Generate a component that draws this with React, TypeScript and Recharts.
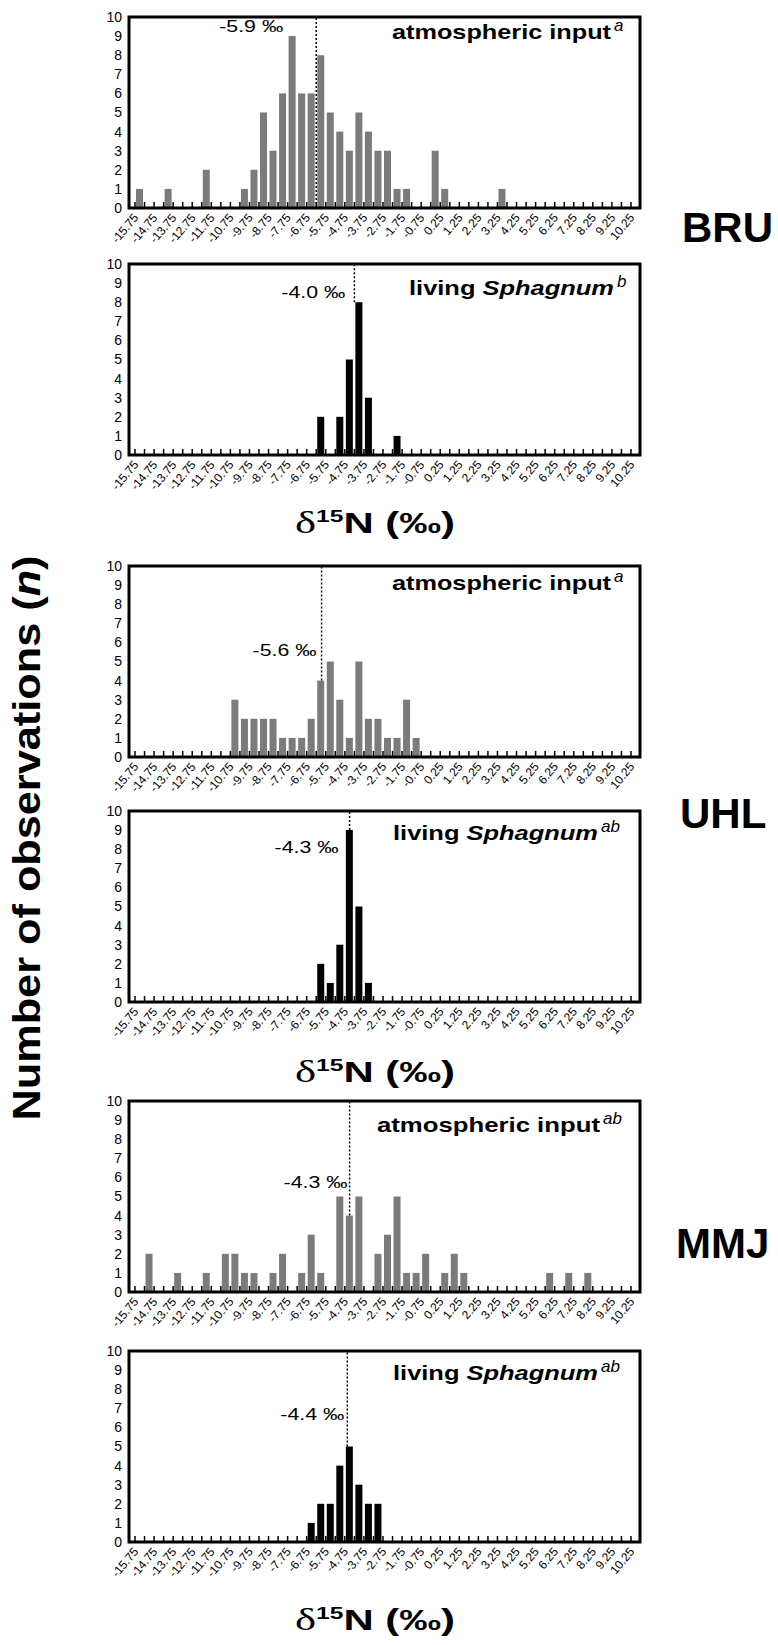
import { Bar, BarChart, ReferenceDot, ReferenceLine, XAxis, YAxis } from 'recharts'

// bin centres (δ15N, 0.5 ‰ bins) and bin edges used as x ticks
const BIN_CENTERS = [
  -15.5, -15, -14.5, -14, -13.5, -13, -12.5, -12, -11.5, -11, -10.5, -10, -9.5,
  -9, -8.5, -8, -7.5, -7, -6.5, -6, -5.5, -5, -4.5, -4, -3.5, -3, -2.5, -2,
  -1.5, -1, -0.5, 0, 0.5, 1, 1.5, 2, 2.5, 3, 3.5, 4, 4.5, 5, 5.5, 6, 6.5, 7,
  7.5, 8, 8.5, 9, 9.5, 10,
]
const BIN_EDGES = [
  -15.75, -15.25, -14.75, -14.25, -13.75, -13.25, -12.75, -12.25, -11.75,
  -11.25, -10.75, -10.25, -9.75, -9.25, -8.75, -8.25, -7.75, -7.25, -6.75,
  -6.25, -5.75, -5.25, -4.75, -4.25, -3.75, -3.25, -2.75, -2.25, -1.75, -1.25,
  -0.75, -0.25, 0.25, 0.75, 1.25, 1.75, 2.25, 2.75, 3.25, 3.75, 4.25, 4.75,
  5.25, 5.75, 6.25, 6.75, 7.25, 7.75, 8.25, 8.75, 9.25, 9.75, 10.25,
]
const TICK_LABELS = [
  '-15.75', '-14.75', '-13.75', '-12.75', '-11.75', '-10.75', '-9.75', '-8.75',
  '-7.75', '-6.75', '-5.75', '-4.75', '-3.75', '-2.75', '-1.75', '-0.75',
  '0.25', '1.25', '2.25', '3.25', '4.25', '5.25', '6.25', '7.25', '8.25',
  '9.25', '10.25',
]
const Y_TICKS = [0, 1, 2, 3, 4, 5, 6, 7, 8, 9, 10]

// counts per bin (52 bins)
const BRU_ATM = [
  1, 0, 0, 1, 0, 0, 0, 2, 0, 0, 0, 1, 2, 5, 3, 6, 9, 6, 6, 8, 5, 4, 3, 5, 4, 3,
  3, 1, 1, 0, 0, 3, 1, 0, 0, 0, 0, 0, 1, 0, 0, 0, 0, 0, 0, 0, 0, 0, 0, 0, 0, 0,
]
const BRU_LIV = [
  0, 0, 0, 0, 0, 0, 0, 0, 0, 0, 0, 0, 0, 0, 0, 0, 0, 0, 0, 2, 0, 2, 5, 8, 3, 0,
  0, 1, 0, 0, 0, 0, 0, 0, 0, 0, 0, 0, 0, 0, 0, 0, 0, 0, 0, 0, 0, 0, 0, 0, 0, 0,
]
const UHL_ATM = [
  0, 0, 0, 0, 0, 0, 0, 0, 0, 0, 3, 2, 2, 2, 2, 1, 1, 1, 2, 4, 5, 3, 1, 5, 2, 2,
  1, 1, 3, 1, 0, 0, 0, 0, 0, 0, 0, 0, 0, 0, 0, 0, 0, 0, 0, 0, 0, 0, 0, 0, 0, 0,
]
const UHL_LIV = [
  0, 0, 0, 0, 0, 0, 0, 0, 0, 0, 0, 0, 0, 0, 0, 0, 0, 0, 0, 2, 1, 3, 9, 5, 1, 0,
  0, 0, 0, 0, 0, 0, 0, 0, 0, 0, 0, 0, 0, 0, 0, 0, 0, 0, 0, 0, 0, 0, 0, 0, 0, 0,
]
const MMJ_ATM = [
  0, 2, 0, 0, 1, 0, 0, 1, 0, 2, 2, 1, 1, 0, 1, 2, 0, 1, 3, 1, 0, 5, 4, 5, 0, 2,
  3, 5, 1, 1, 2, 0, 1, 2, 1, 0, 0, 0, 0, 0, 0, 0, 0, 1, 0, 1, 0, 1, 0, 0, 0, 0,
]
const MMJ_LIV = [
  0, 0, 0, 0, 0, 0, 0, 0, 0, 0, 0, 0, 0, 0, 0, 0, 0, 0, 1, 2, 2, 4, 5, 3, 2, 2,
  0, 0, 0, 0, 0, 0, 0, 0, 0, 0, 0, 0, 0, 0, 0, 0, 0, 0, 0, 0, 0, 0, 0, 0, 0, 0,
]

const MEAN_TEXT = ['-5.9 ‰', '-4.0 ‰', '-5.6 ‰', '-4.3 ‰', '-4.3 ‰', '-4.4 ‰']
// where the dotted mean line sits on the drawn axis
const MEAN_AT = [-6.25, -4.25, -5.97, -4.5, -4.5, -4.62]
const SITES = ['BRU', 'UHL', 'MMJ']

const PLOT_LEFT = 129
const PLOT_W = 511
const PLOT_H = 191
const GRAY = '#7b7b7b'

const panels = [
  { top: 17, counts: BRU_ATM, fill: GRAY, meanBase: 0, labelAt: 9.2, gap: 33 },
  { top: 264, counts: BRU_LIV, fill: '#000', meanBase: 8, labelAt: 8.2, gap: 9 },
  { top: 566, counts: UHL_ATM, fill: GRAY, meanBase: 4, labelAt: 5.3, gap: 5 },
  { top: 811, counts: UHL_LIV, fill: '#000', meanBase: 9, labelAt: 7.8, gap: 11 },
  { top: 1101, counts: MMJ_ATM, fill: GRAY, meanBase: 4, labelAt: 5.45, gap: 2 },
  { top: 1351, counts: MMJ_LIV, fill: '#000', meanBase: 5, labelAt: 6.4, gap: 3 },
]

function XTick(props: any) {
  const { x, y, payload } = props
  const i = Math.round((payload.value - BIN_EDGES[0]) / 0.5)
  const label = i % 2 === 0 ? TICK_LABELS[i / 2] : null
  const ax = x + 4
  const ay = y + 10
  return (
    <g>
      <line x1={x} x2={x} y1={y} y2={y - 6} stroke="#000" strokeWidth={1.5} />
      {label && (
        <text
          x={ax}
          y={ay}
          textAnchor="end"
          fontSize={12}
          fill="#000"
          transform={`rotate(-50 ${ax} ${ay})`}
        >
          {label}
        </text>
      )}
    </g>
  )
}

function Panel({ idx }: { idx: number }) {
  const p = panels[idx]
  const data = BIN_CENTERS.map((x, i) => ({ x, n: p.counts[i] }))
  const meanAt = MEAN_AT[idx]

  return (
    <div style={{ position: 'absolute', left: 0, top: p.top - 10 }}>
      <BarChart
        width={700}
        height={PLOT_H + 60}
        data={data}
        margin={{ top: 10, right: 700 - PLOT_LEFT - PLOT_W, bottom: 0, left: 0 }}
      >
        <XAxis
          type="number"
          dataKey="x"
          domain={[-15.75, 10.25]}
          ticks={BIN_EDGES}
          interval={0}
          padding={{ left: 6, right: 9 }}
          height={50}
          axisLine={false}
          tickLine={false}
          tickSize={0}
          tickMargin={0}
          tick={(t: any) => <XTick {...t} />}
        />
        <YAxis
          type="number"
          domain={[0, 10]}
          ticks={Y_TICKS}
          interval={0}
          width={PLOT_LEFT}
          axisLine={false}
          tickLine={false}
          tickSize={0}
          tickMargin={7}
          tick={{ fontSize: 14, fill: '#000' }}
        />
        <ReferenceLine
          segment={[
            { x: meanAt, y: p.meanBase },
            { x: meanAt, y: 10 },
          ]}
          stroke="#000"
          strokeWidth={1.5}
          strokeDasharray="2 2"
        />
        <Bar dataKey="n" fill={p.fill} barSize={7} isAnimationActive={false} />
        <ReferenceDot
          x={meanAt}
          y={p.labelAt}
          r={0}
          fill="none"
          stroke="none"
          label={(lp: any) => (
            <text
              x={lp.viewBox.x - p.gap}
              y={lp.viewBox.y}
              textAnchor="end"
              fontSize={17}
              textLength={64}
              lengthAdjust="spacingAndGlyphs"
              fill="#000"
            >
              {MEAN_TEXT[idx]}
            </text>
          )}
        />
      </BarChart>
    </div>
  )
}

function PanelTitle({ idx }: { idx: number }) {
  const p = panels[idx]
  const atm = idx % 2 === 0
  const sup = idx === 0 || idx === 2 ? 'a' : idx === 1 ? 'b' : 'ab'
  const baseline = [39, 295, 590, 840, 1132, 1380][idx]
  const end = [611, 614, 611, 598, 600, 598][idx]
  const len = [219, 205, 219, 205, 223, 205][idx]
  return (
    <g>
      <text
        x={end}
        y={baseline}
        textAnchor="end"
        fontSize={21}
        fontWeight="bold"
        textLength={len}
        lengthAdjust="spacingAndGlyphs"
      >
        {atm ? (
          'atmospheric input'
        ) : (
          <>
            living <tspan fontStyle="italic">Sphagnum</tspan>
          </>
        )}
      </text>
      <text x={end + 3} y={baseline - 8} fontSize={17} fontStyle="italic">
        {sup}
      </text>
      <rect
        x={PLOT_LEFT}
        y={p.top}
        width={PLOT_W}
        height={PLOT_H}
        fill="none"
        stroke="#000"
        strokeWidth={3}
      />
    </g>
  )
}

function AxisTitle({ baseline }: { baseline: number }) {
  return (
    <text
      x={375}
      y={baseline}
      textAnchor="middle"
      textLength={160}
      lengthAdjust="spacingAndGlyphs"
    >
      <tspan fontFamily='"Liberation Serif", serif' fontSize={31}>
        δ
      </tspan>
      <tspan fontWeight="bold" fontSize={17} dy={-11}>
        15
      </tspan>
      <tspan fontWeight="bold" fontSize={29} dy={11}>
        N (‰)
      </tspan>
    </text>
  )
}

export default function App() {
  const siteY = [242, 828, 1258]
  const siteX = [682, 680, 676]
  return (
    <div
      style={{
        position: 'absolute',
        left: 0,
        top: 0,
        width: 778,
        height: 1645,
        background: '#fff',
        overflow: 'hidden',
        fontFamily: '"Liberation Sans", Arial, sans-serif',
      }}
    >
      {panels.map((_, i) => (
        <Panel key={i} idx={i} />
      ))}
      <svg
        width={778}
        height={1645}
        style={{ position: 'absolute', left: 0, top: 0, pointerEvents: 'none' }}
      >
        {panels.map((_, i) => (
          <PanelTitle key={i} idx={i} />
        ))}
        <AxisTitle baseline={533} />
        <AxisTitle baseline={1082} />
        <AxisTitle baseline={1630} />
        {SITES.map((s, i) => (
          <text key={s} x={siteX[i]} y={siteY[i]} fontSize={42} fontWeight="bold">
            {s}
          </text>
        ))}
        <text
          x={40}
          y={838}
          transform="rotate(-90 40 838)"
          textAnchor="middle"
          fontSize={38}
          fontWeight="bold"
          textLength={565}
          lengthAdjust="spacingAndGlyphs"
        >
          Number of observations (<tspan fontStyle="italic">n</tspan>)
        </text>
      </svg>
    </div>
  )
}
